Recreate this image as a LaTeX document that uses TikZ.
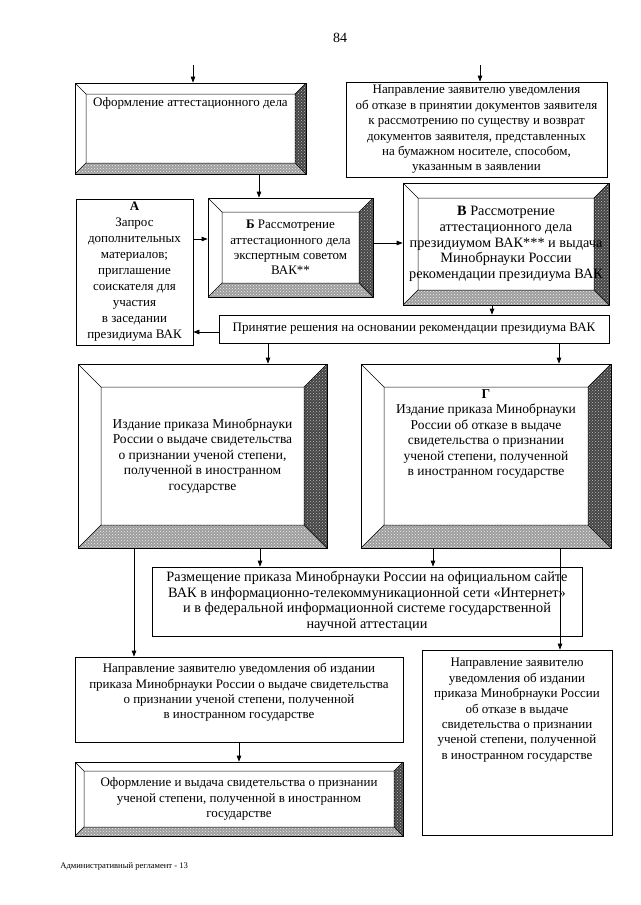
\documentclass[tikz,border=0pt]{standalone}
\usepackage{fontspec}
\setmainfont{Liberation Serif}
\usetikzlibrary{arrows.meta,calc,patterns}

\definecolor{bevdark}{gray}{0.27}
\definecolor{bevlight}{gray}{0.62}

\tikzset{
  txt/.style={align=center, inner sep=0pt, font=\fontsize{13}{15.4}\selectfont},
  big/.style={font=\fontsize{14.3}{15.6}\selectfont},
  box/.style={txt, draw, line width=0.7pt},
  bevel/.style={box, path picture={
    \coordinate (ne) at (path picture bounding box.north east);
    \coordinate (nw) at (path picture bounding box.north west);
    \coordinate (se) at (path picture bounding box.south east);
    \coordinate (sw) at (path picture bounding box.south west);
    \coordinate (ine) at ($(ne)+(-#1pt,-#1pt)$);
    \coordinate (inw) at ($(nw)+(#1pt,-#1pt)$);
    \coordinate (ise) at ($(se)+(-#1pt,#1pt)$);
    \coordinate (isw) at ($(sw)+(#1pt,#1pt)$);
    \fill[bevdark] (ne) -- (se) -- (ise) -- (ine) -- cycle;
    \fill[pattern=crosshatch dots, pattern color=gray!50] (ne) -- (se) -- (ise) -- (ine) -- cycle;
    \fill[bevlight] (sw) -- (se) -- (ise) -- (isw) -- cycle;
    \fill[pattern=crosshatch dots, pattern color=gray!12] (sw) -- (se) -- (ise) -- (isw) -- cycle;
    \draw[line width=0.5pt] (inw) -- (ine) -- (ise) -- (isw) -- cycle
      (nw) -- (inw) (ne) -- (ine) (se) -- (ise) (sw) -- (isw);
  }}
}

\begin{document}
\begin{tikzpicture}[x=1pt, y=-1pt, line width=0.7pt, >={Triangle[length=6pt, width=4.5pt]}]
\useasboundingbox (0,0) rectangle (640,905);
\node[txt, font=\fontsize{14}{15}\selectfont] (pg) at (340,38) {84};

% upper row
\node[bevel=11, minimum width=231pt, minimum height=91pt] (b1) at (190.5,128.5) {};
\node[txt, anchor=north] (t1) at (190.5,97) {Оформление аттестационного дела};
\node[box, minimum width=261pt, minimum height=95pt] (b2) at (476.5,129.5)
  {Направление заявителю уведомления\\об отказе в принятии документов заявителя\\к рассмотрению по существу и возврат\\документов заявителя, представленных\\на бумажном носителе, способом,\\указанным в заявлении};
\coordinate (in1) at (193,65);
\coordinate (in2) at (480,65);
\draw[->] (in1) -- (in1 |- b1.north);
\draw[->] (in2) -- (in2 |- b2.north);

% examination
\node[box, minimum width=117pt, minimum height=146pt, font=\fontsize{13}{16}\selectfont] (bA) at (134.5,272)
  {\textbf{А}\\Запрос\\дополнительных\\материалов;\\приглашение\\соискателя для\\участия\\в заседании\\президиума ВАК};
\node[bevel=14, minimum width=165pt, minimum height=99pt] (bB) at (290.5,247.5)
  {\textbf{Б} Рассмотрение\\аттестационного дела\\экспертным советом\\ВАК**};
\node[bevel=15, minimum width=206pt, minimum height=122pt, big] (bV) at (506,244)
  {\textbf{В} Рассмотрение\\аттестационного дела\\президиумом ВАК*** и выдача\\Минобрнауки России\\рекомендации президиума ВАК};
\node[box, minimum width=390pt, minimum height=28pt] (bP) at (414,329)
  {Принятие решения на основании рекомендации президиума ВАК};
\draw[->] (259,0 |- b1.south) -- (259,0 |- bB.north);
\draw[->] (bA.east |- 0,239) -- (bB.west |- 0,239);
\draw[->] (bB.east |- 0,243) -- (bV.west |- 0,243);
\draw[->] (492,0 |- bV.south) -- (492,0 |- bP.north);
\draw[->] (bP.west |- 0,332) -- (bA.east |- 0,332);

% orders
\node[bevel=23, minimum width=249pt, minimum height=184pt, font=\fontsize{13.5}{15.4}\selectfont] (bL) at (202.5,456)
  {Издание приказа Минобрнауки\\России о выдаче свидетельства\\о признании ученой степени,\\полученной в иностранном\\государстве};
\node[bevel=23, minimum width=250pt, minimum height=184pt] (bG) at (486,456) {};
\node[txt, font=\fontsize{13.5}{15.4}\selectfont] (tG) at (486,434)
  {\textbf{Г}\\Издание приказа Минобрнауки\\России об отказе в выдаче\\свидетельства о признании\\ученой степени, полученной\\в иностранном государстве};
\draw[->] (268,0 |- bP.south) -- (268,0 |- bL.north);
\draw[->] (559,0 |- bP.south) -- (559,0 |- bG.north);

% publication and notices
\node[box, minimum width=430pt, minimum height=69pt, big] (bR) at (367,601.5)
  {Размещение приказа Минобрнауки России на официальном сайте\\ВАК в информационно-телекоммуникационной сети «Интернет»\\и в федеральной информационной системе государственной\\научной аттестации};
\node[box, minimum width=328pt, minimum height=85pt] (bN) at (239,699.5) {};
\node[txt, anchor=north] (tN) at (239,663)
  {Направление заявителю уведомления об издании\\приказа Минобрнауки России о выдаче свидетельства\\о признании ученой степени, полученной\\в иностранном государстве};
\node[bevel=9, minimum width=328pt, minimum height=74pt] (bO) at (239,799)
  {Оформление и выдача свидетельства о признании\\ученой степени, полученной в иностранном\\государстве};
\node[box, minimum width=190pt, minimum height=185pt] (bT) at (517,742.5) {};
\node[txt, anchor=north] (tT) at (517,658)
  {Направление заявителю\\уведомления об издании\\приказа Минобрнауки России\\об отказе в выдаче\\свидетельства о признании\\ученой степени, полученной\\в иностранном государстве};
\draw[->] (260,0 |- bL.south) -- (260,0 |- bR.north);
\draw[->] (433,0 |- bG.south) -- (433,0 |- bR.north);
\draw[->] (134,0 |- bL.south) -- (134,0 |- bN.north);
\draw[->] (560,0 |- bG.south) -- (560,0 |- bT.north);
\draw[->] (239,0 |- bN.south) -- (239,0 |- bO.north);

\node[txt, anchor=west, font=\fontsize{8.6}{9}\selectfont] (ft) at (60,866) {Административный регламент - 13};
\end{tikzpicture}
\end{document}
